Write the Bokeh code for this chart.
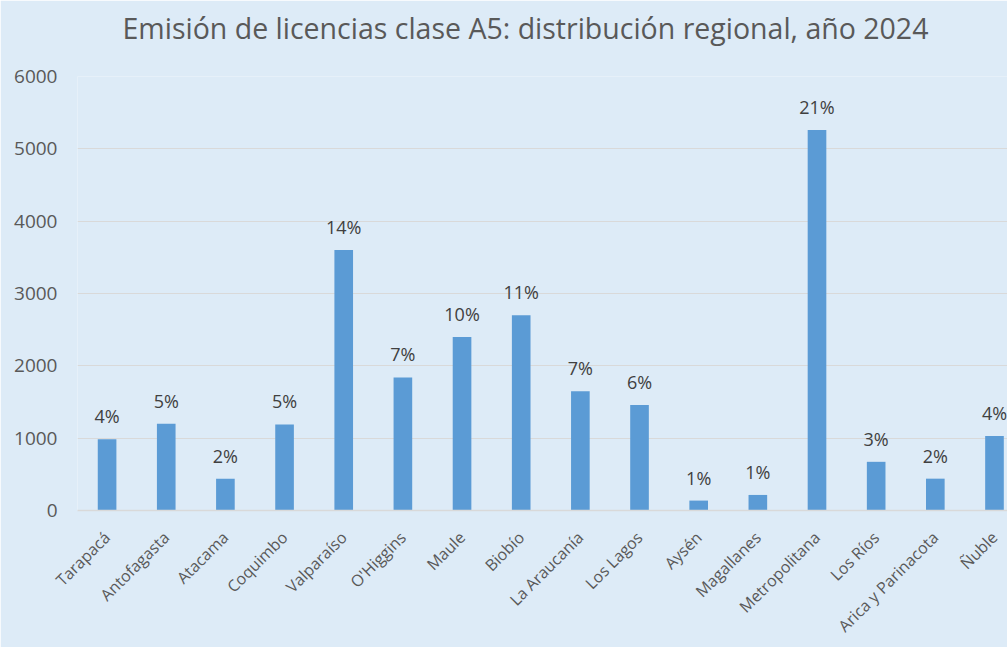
from math import pi
from bokeh.plotting import figure
from bokeh.models import Range1d, FixedTicker, ColumnDataSource, LabelSet, Title
from bokeh.core.properties import value
from bokeh.embed import file_html
from bokeh.resources import INLINE

title_text = "Emisión de licencias clase A5: distribución regional, año 2024"
regions = ["Tarapacá", "Antofagasta", "Atacama", "Coquimbo", "Valparaíso", "O'Higgins",
           "Maule", "Biobío", "La Araucanía", "Los Lagos", "Aysén", "Magallanes",
           "Metropolitana", "Los Ríos", "Arica y Parinacota", "Ñuble"]
licencias = [985, 1200, 440, 1190, 3600, 1840, 2400, 2700, 1650, 1460, 137, 215,
             5260, 673, 440, 1030]
porcentajes = ["4%", "5%", "2%", "5%", "14%", "7%", "10%", "11%", "7%", "6%", "1%", "1%",
               "21%", "3%", "2%", "4%"]
y_ticks = [0, 1000, 2000, 3000, 4000, 5000, 6000]

FONT = "Open Sans"
BG = "#DDEBF7"
GREY = "#595959"

idx = list(range(len(regions)))
src = ColumnDataSource(dict(x=idx, top=licencias, label=porcentajes))

p = figure(width=1007, height=647, output_backend="svg", toolbar_location=None,
           x_range=Range1d(-0.5, 15.22), y_range=Range1d(0, 6000),
           min_border_left=77, min_border_right=0, min_border_top=0,
           min_border_bottom=135,
           background_fill_color=BG, border_fill_color=BG, outline_line_color=None)

# spacer between title and plot area
p.add_layout(Title(text=" ", text_font_size="1px", standoff=20), "above")

p.title.text = title_text
p.title.align = "left"
p.title.offset = 45
p.title.standoff = 13
p.title.text_font = FONT
p.title.text_font_size = "28.5px"
p.title.text_font_style = "normal"
p.title.text_color = GREY

p.vbar(x="x", top="top", width=0.315, source=src, fill_color="#5B9BD5", line_color=None)

labels = LabelSet(x="x", y="top", text="label", source=src, text_align="center",
                  text_baseline="alphabetic", y_offset=16, text_font=value(FONT),
                  text_font_size=value("18px"), text_color="#404040")
p.add_layout(labels)

p.xaxis.ticker = FixedTicker(ticks=idx)
p.xaxis.major_label_overrides = {i: r for i, r in zip(idx, regions)}
p.xaxis.major_label_orientation = pi / 4
p.xaxis.major_label_text_font = FONT
p.xaxis.major_label_text_font_size = "16px"
p.xaxis.major_label_text_color = GREY
p.xaxis.major_tick_line_color = None
p.xaxis.minor_tick_line_color = None
p.xaxis.axis_line_color = "#D9D9D9"
p.xaxis.axis_line_width = 1.5
p.xaxis.major_label_standoff = 18

p.yaxis.ticker = FixedTicker(ticks=y_ticks)
p.yaxis.major_label_text_font = FONT
p.yaxis.major_label_text_font_size = "19px"
p.yaxis.major_label_text_color = GREY
p.yaxis.axis_line_color = None
p.yaxis.major_tick_line_color = None
p.yaxis.minor_tick_line_color = None
p.yaxis.major_tick_out = 0
p.yaxis.major_label_standoff = 20

p.xgrid.grid_line_color = None
p.ygrid.grid_line_color = "#D9D9D9"
p.ygrid.grid_line_width = 1

open("out.html", "w").write(file_html(p, INLINE))
